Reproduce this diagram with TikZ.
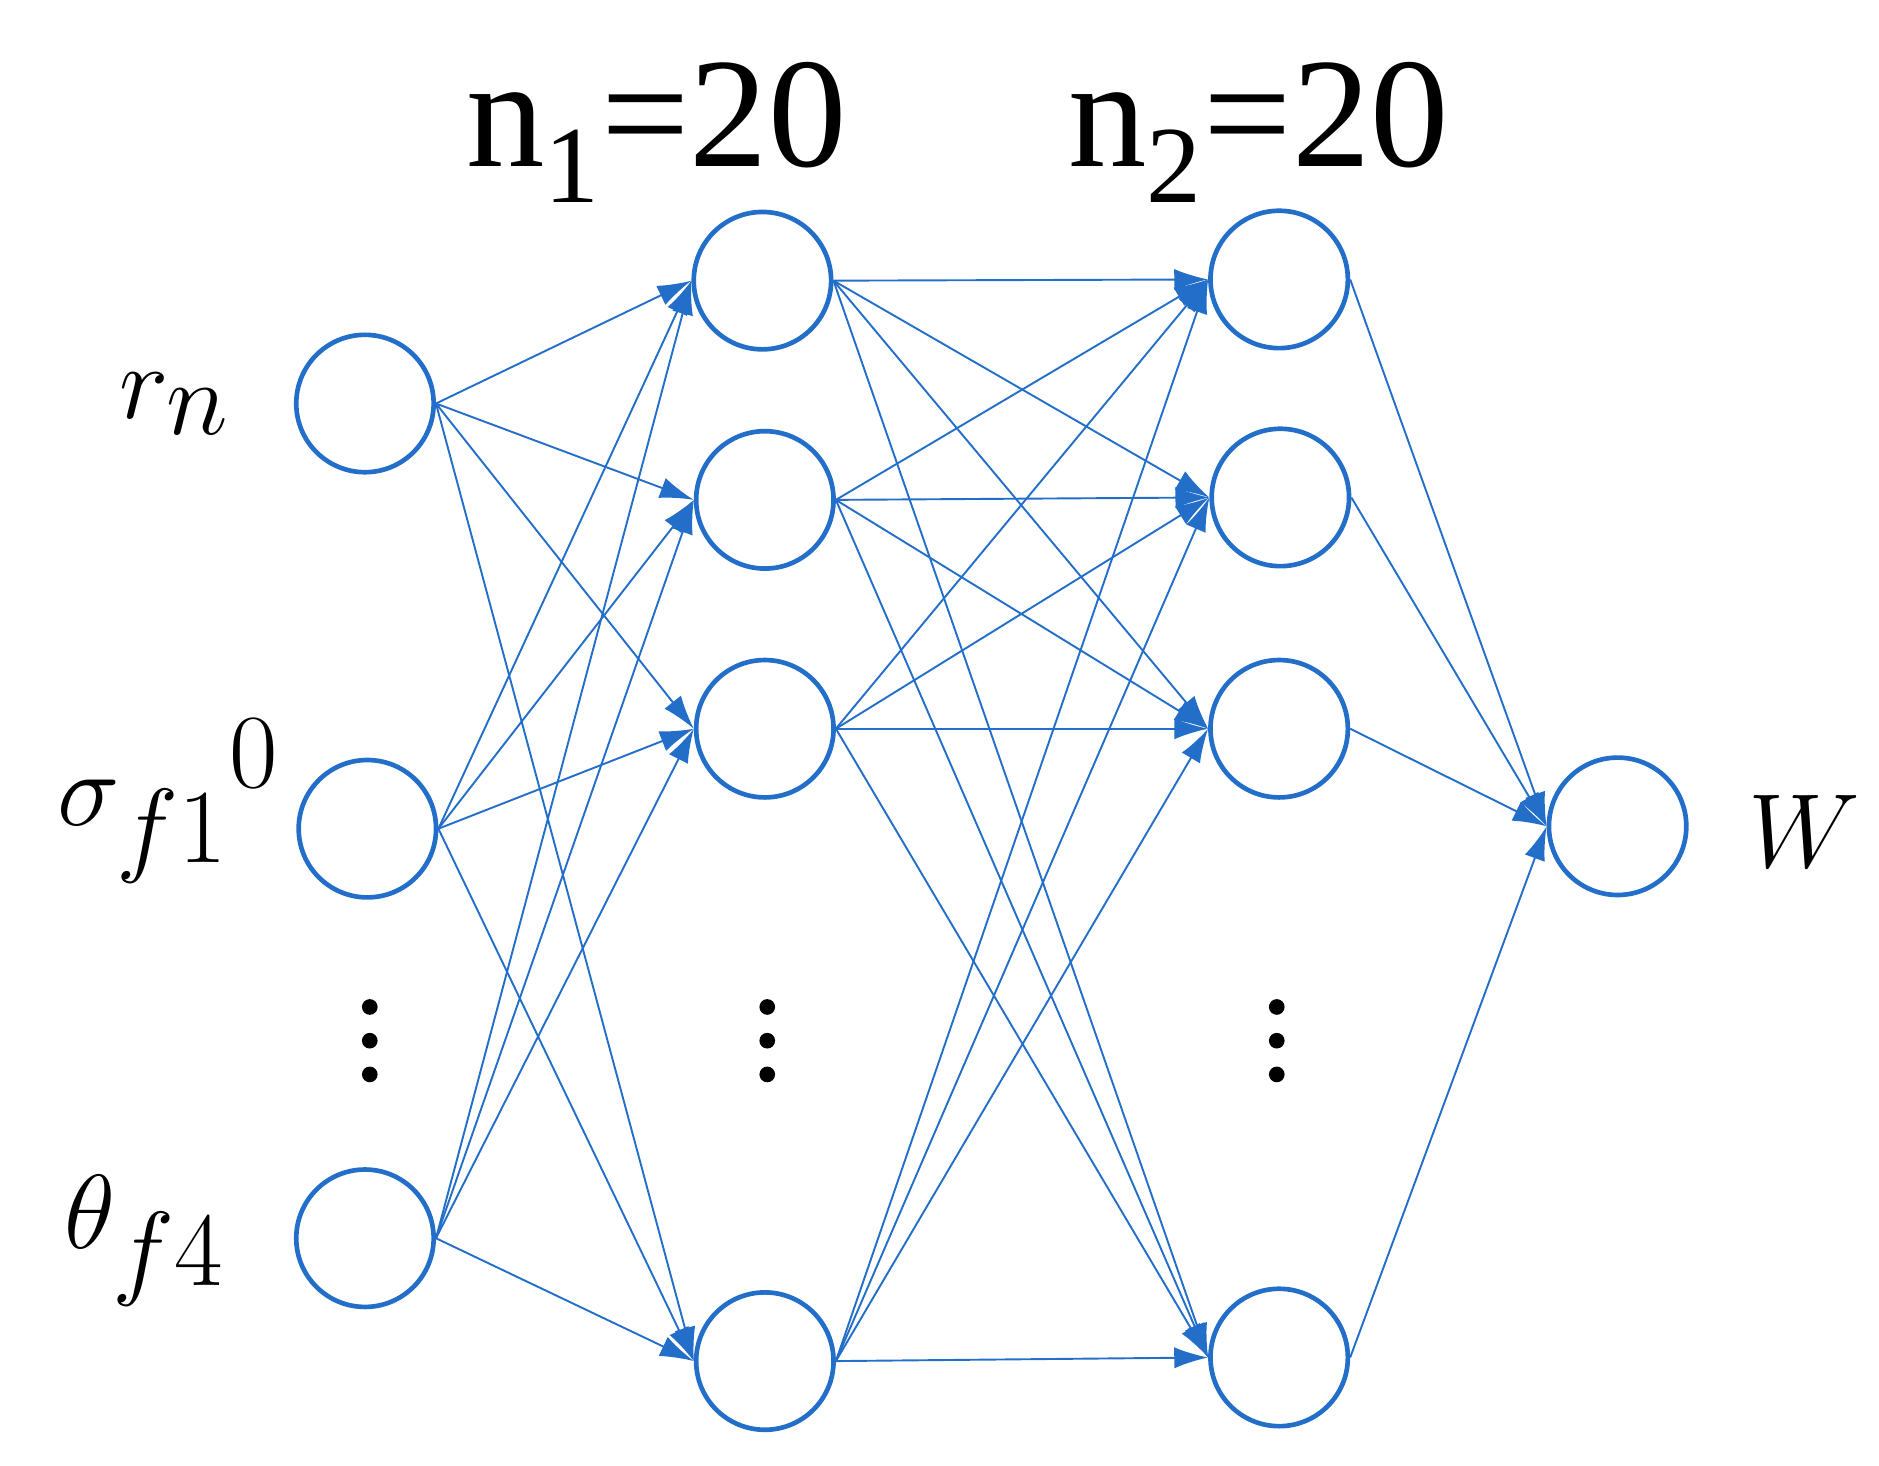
\documentclass[tikz,border=0pt]{standalone}
\usepackage{fontspec}
\setmainfont{Liberation Serif}
\usetikzlibrary{arrows.meta}
\definecolor{nb}{RGB}{35,110,200}
\begin{document}
\begin{tikzpicture}[x=0.01cm,y=-0.01cm,
  neuron/.style={circle,draw=nb,line width=1.1pt,minimum size=1.14cm,inner sep=0pt},
  conn/.style={draw=nb,line width=0.45pt,-{Latex[length=8pt,width=5pt]}},
  lab/.style={font=\fontsize{50}{54}\selectfont},
  dot/.style={circle,fill=black,inner sep=0pt,minimum size=0.13cm}]
\useasboundingbox (0,0) rectangle (1560,1217);
\node[neuron] (i1) at (303,335) {};
\node[neuron] (i2) at (305,688) {};
\node[neuron] (i3) at (303,1028) {};
\node[neuron] (a1) at (633,233) {};
\node[neuron] (a2) at (635,415) {};
\node[neuron] (a3) at (635,605) {};
\node[neuron] (a4) at (635,1130) {};
\node[neuron] (b1) at (1062,232) {};
\node[neuron] (b2) at (1063,413) {};
\node[neuron] (b3) at (1062,605) {};
\node[neuron] (b4) at (1062,1127) {};
\node[neuron] (o) at (1343,686) {};
\foreach \s in {i1,i2,i3}{\foreach \t in {a1,a2,a3,a4}{\draw[conn] (\s.east) -- (\t.west);}}
\foreach \s in {a1,a2,a3,a4}{\foreach \t in {b1,b2,b3,b4}{\draw[conn] (\s.east) -- (\t.west);}}
\foreach \s in {b1,b2,b3,b4}{\draw[conn] (\s.east) -- (o.west);}
\node[lab] (l1) at (145,335) {$r_n$};
\node[lab] (l2) at (140,665) {$\sigma_{f1}{}^{0}$};
\node[lab] (l3) at (120,1030) {$\theta_{f4}$};
\node[lab] (l4) at (1498,690) {$W$};
\node[font=\fontsize{37}{40}\selectfont] (t1) at (545,110) {n\textsubscript{1}=20};
\node[font=\fontsize{37}{40}\selectfont] (t2) at (1045,110) {n\textsubscript{2}=20};
\foreach \x/\n in {307/d1,637/d2,1060/d3}{
  \node[dot] (\n a) at (\x,836) {};
  \node[dot] (\n b) at (\x,864) {};
  \node[dot] (\n c) at (\x,892) {};}
\end{tikzpicture}
\end{document}
